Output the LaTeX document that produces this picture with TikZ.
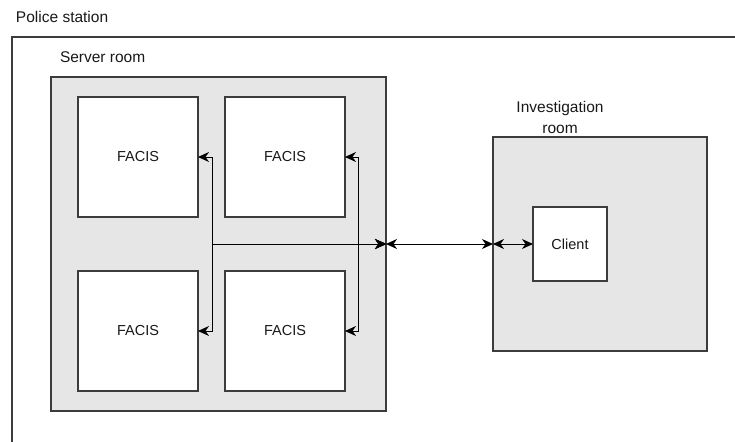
\documentclass[tikz,border=0pt]{standalone}
\usepackage{fontspec}
\setmainfont{Liberation Sans}
\usetikzlibrary{arrows.meta}

\definecolor{edgegray}{HTML}{3C3C3C}
\definecolor{roomfill}{HTML}{E6E6E6}

\tikzset{
  box/.style={draw=edgegray, line width=1.3pt, inner sep=0pt, outer sep=0pt,
    anchor=north west},
  room/.style={box, fill=roomfill},
  unit/.style={box, fill=white, minimum width=120pt, minimum height=120pt},
  label/.style={inner sep=0pt, font=\fontsize{14.5}{17}\selectfont, text=black!90},
  caption/.style={inner sep=0pt, outer sep=0pt, font=\fontsize{15.5}{21}\selectfont,
    text=black!90},
  link/.style={draw=black, line width=1pt, {Stealth[length=11pt, width=10pt, inset=3.5pt]}-{Stealth[length=11pt, width=10pt, inset=3.5pt]}},
}

\begin{document}
\begin{tikzpicture}[x=1pt, y=-1pt]
  \clip (0,0) rectangle (735,441);
  \fill[white] (0,0) rectangle (735,441);

  % building outline, running past the right and bottom edges
  \node[box, minimum width=800pt, minimum height=500pt] (station) at (12,37) {};
  \node[caption, anchor=west] (stationlbl) at (16,17) {Police station};

  % server room with its four FACIS servers
  \node[room, minimum width=335pt, minimum height=334pt] (srv) at (51,77) {};
  \node[caption, anchor=west] (srvlbl) at (60,57) {Server room};

  \node[unit] (tl) at (78,97) {};
  \node[label] (tltext) at (tl.center) {FACIS};
  \node[unit] (tr) at (225,97) {};
  \node[label] (trtext) at (tr.center) {FACIS};
  \node[unit] (bl) at (78,271) {};
  \node[label] (bltext) at (bl.center) {FACIS};
  \node[unit] (br) at (225,271) {};
  \node[label] (brtext) at (br.center) {FACIS};

  % investigation room with the client
  \node[room, minimum width=214pt, minimum height=214pt] (inv) at (493,137) {};
  \node[caption, align=center] (invlbl) at (560,117) {Investigation\\room};
  \node[box, fill=white, minimum width=74pt, minimum height=74pt] (client) at (533,207) {};
  \node[label] (clienttext) at (client.center) {Client};

  % bends of the server-room wiring
  \coordinate (busl) at (212.5,244);
  \coordinate (busr) at (358.5,244);

  \draw[link] (srv.east) -- (busl) |- (tl.east);
  \draw[link] (srv.east) -- (busl) |- (bl.east);
  \draw[link] (srv.east) -- (busr) |- (tr.east);
  \draw[link] (srv.east) -- (busr) |- (br.east);

  \draw[link] (srv.east) -- (inv.west);
  \draw[link] (inv.west) -- (client.west);
\end{tikzpicture}
\end{document}
